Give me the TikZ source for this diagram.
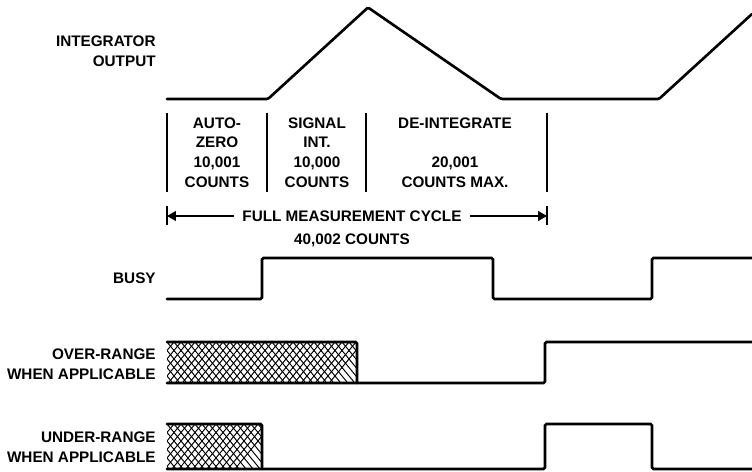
\documentclass[tikz,border=0pt]{standalone}
\usepackage{fontspec}
\setmainfont{Liberation Sans}
\usetikzlibrary{arrows.meta}
\newcommand\sigfont{\fontsize{8.7}{11.2}\selectfont\bfseries}
\tikzset{
  siglabel/.style={anchor=east,align=right,font=\sigfont,inner sep=0pt},
  phasetext/.style={align=center,font=\sigfont,inner sep=0pt},
  wave/.style={line width=1.5pt,rounded corners=0.8pt,line cap=round},
  phasesep/.style={line width=0.8pt},
  cyclearr/.style={-{Triangle[length=0.18cm,width=0.2cm]},line width=0.6pt},
  mesh/.style={line width=0.55pt}
}
\begin{document}
\begin{tikzpicture}[x=0.02cm,y=-0.02cm]
  \useasboundingbox (0,0) rectangle (752,472);

  % signal names
  \node[siglabel] (integ) at (156,51.5) {INTEGRATOR\\OUTPUT};
  \node[siglabel] (busy) at (156,278) {BUSY};
  \node[siglabel] (over) at (156,364) {OVER-RANGE\\WHEN APPLICABLE};
  \node[siglabel] (under) at (156,447) {UNDER-RANGE\\WHEN APPLICABLE};

  % integrator ramp
  \draw[wave] (167,99) -- (268,99) -- (368,7.5) -- (501,99) -- (659,99) -- (752,14);

  % phases
  \foreach \x in {167,267,366,547}
    \draw[phasesep] (\x,113) -- (\x,192);
  \node[phasetext] (autoz) at (217,152.5) {AUTO-\\ZERO\\10,001\\COUNTS};
  \node[phasetext] (sigint) at (317,152.5) {SIGNAL\\INT.\\10,000\\COUNTS};
  \node[phasetext] (deint) at (455,152.5) {DE-INTEGRATE\\\mbox{}\\20,001\\COUNTS MAX.};

  % full cycle
  \coordinate (cycL) at (167,216);
  \coordinate (cycR) at (547,216);
  \node[phasetext,inner xsep=0.17cm] (cyc) at (352,216) {FULL MEASUREMENT CYCLE};
  \node[phasetext] (cyccnt) at (352,240) {40,002 COUNTS};
  \draw[cyclearr] (cyc) -- (cycL);
  \draw[cyclearr] (cyc) -- (cycR);
  \draw[phasesep] (cycL) ++(0,-9.5) -- ++(0,19);
  \draw[phasesep] (cycR) ++(0,-9.5) -- ++(0,19);

  % busy
  \draw[wave] (167,299) -- (262,299) -- (262,258) -- (493,258) -- (493,299)
    -- (652,299) -- (652,258) -- (752,258);

  % over-range
  \begin{scope}
    \clip (167,342) rectangle (357,383);
    \foreach \k in {-6,...,28}
      \draw[mesh] (167+\k*7,342) -- ++(33.8,41) (167+\k*7,342) -- ++(-33.8,41);
  \end{scope}
  \draw[wave] (167,342) -- (357,342) -- (357,383);
  \draw[wave] (167,383) -- (545,383) -- (545,342) -- (752,342);

  % under-range
  \begin{scope}
    \clip (167,424) rectangle (262,469);
    \foreach \k in {-7,...,15}
      \draw[mesh] (167+\k*7,424) -- ++(37.1,45) (167+\k*7,424) -- ++(-37.1,45);
  \end{scope}
  \draw[wave] (167,424) -- (262,424) -- (262,469);
  \draw[wave] (167,469) -- (545,469) -- (545,424) -- (652,424) -- (652,469) -- (752,469);
\end{tikzpicture}
\end{document}
